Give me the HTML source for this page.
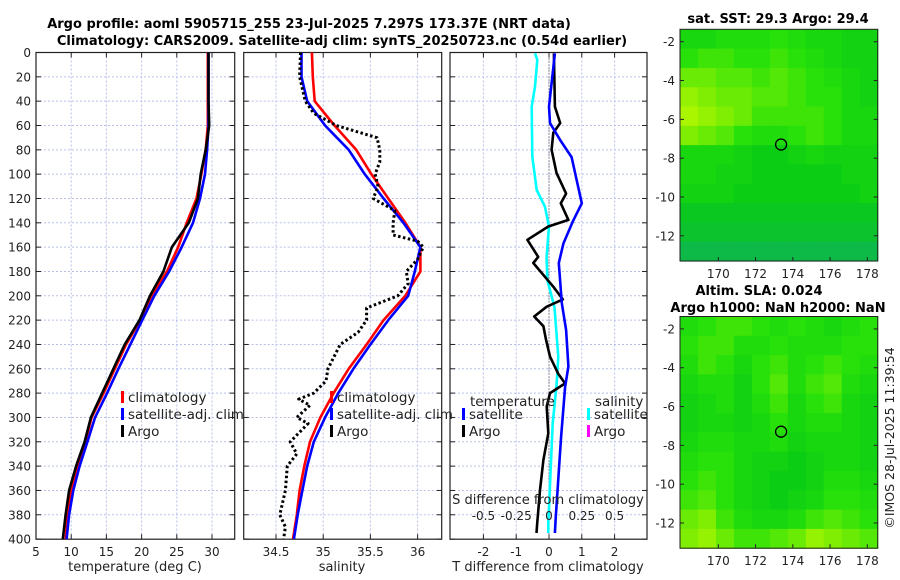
<!DOCTYPE html>
<html><head><meta charset="utf-8"><style>
body{margin:0;background:#fff;}
svg{display:block;font-family:"DejaVu Sans","Liberation Sans",sans-serif;}
</style></head><body>
<svg id="c" width="900" height="580" viewBox="0 0 900 580"></svg>
<script>
const depths=[0,20,40,60,80,100,120,140,160,180,200,220,240,260,280,300,320,340,360,380,400];
const tClim=[29.4,29.4,29.4,29.4,29.1,28.5,27.8,26.4,25.2,23.6,21.4,19.8,17.8,16.2,14.6,12.9,12.0,10.9,10.0,9.5,9.2];
const tSat=[29.5,29.5,29.5,29.5,29.3,29.0,28.3,27.3,25.7,23.9,21.8,20.1,18.4,16.7,15.1,13.4,12.3,11.2,10.3,9.7,9.35];
const tArgo=[29.5,29.5,29.5,29.6,29.1,28.4,28.0,26.7,24.3,23.1,21.2,19.7,17.6,16.0,14.4,12.8,11.9,10.7,9.7,9.2,8.8];
const sClim=[34.88,34.89,34.91,35.12,35.35,35.51,35.69,35.87,36.03,36.03,35.87,35.64,35.46,35.27,35.11,34.97,34.86,34.80,34.75,34.72,34.68];
const sSat=[34.77,34.77,34.83,35.02,35.27,35.44,35.64,35.85,36.03,35.97,35.90,35.69,35.50,35.32,35.16,35.02,34.90,34.83,34.78,34.73,34.69];
const sArgoDepth=[0,20,40,50,60,70,80,90,100,110,120,130,140,150,155,160,170,180,190,200,210,220,230,240,260,270,280,285,290,300,305,320,330,340,360,380,390,400];
const sArgo=[34.76,34.75,34.81,34.90,35.14,35.57,35.60,35.60,35.55,35.58,35.53,35.76,35.74,35.74,36.00,36.06,36.00,35.88,35.90,35.79,35.46,35.46,35.37,35.18,35.05,35.03,34.90,34.74,34.86,34.72,34.84,34.65,34.72,34.62,34.60,34.54,34.60,34.58];
const dTSatDepth=[0.7,44.5,58,72,86,124,138,157,173,206,228,258,275,316,384,395];
const dTSat=[0.18,0.0,0.03,0.34,0.69,1.0,0.74,0.44,0.30,0.39,0.52,0.59,0.49,0.37,0.20,0.18];
const dTArgoDepth=[0.7,44.5,58,66,80,99,116,124,137.6,143,154,168,173,192.5,203,209,217,225,236,250,264,272,280,291,313,335,359,387,395];
const dTArgo=[0.15,0.18,0.34,0.13,0.08,0.23,0.52,0.36,0.59,-0.02,-0.66,-0.33,-0.48,0.13,0.42,-0.07,-0.45,-0.17,-0.09,0.03,0.28,0.49,0.03,-0.07,-0.02,-0.17,-0.27,-0.36,-0.38];
const dSSatDepth=[0.7,6,28,44.5,85.6,113,126.7,143,168,187,209,250,272,305,387,395];
const dSSat=[-0.107,-0.089,-0.107,-0.132,-0.127,-0.094,-0.031,0,-0.018,-0.013,0.041,0.071,0.059,0.028,-0.005,-0.005];
const depthTicks=[0,20,40,60,80,100,120,140,160,180,200,220,240,260,280,300,320,340,360,380,400];
const tTicks=[5,10,15,20,25,30];
const sTicks=[34.5,35,35.5,36];
const dTTicks=[-2,-1,0,1,2];
const dSTicks=[-0.5,-0.25,0,0.25,0.5];
const lonTicks=[170,172,174,176,178];
const latTicks=[-2,-4,-6,-8,-10,-12];
const sstGrid=[
[.45,.45,.5,.5,.5,.55,.5,.45,.45,.4,.4],
[.55,.6,.6,.55,.55,.6,.55,.5,.45,.4,.4],
[.7,.7,.65,.65,.6,.65,.6,.55,.5,.45,.4],
[.8,.75,.7,.7,.65,.65,.6,.55,.55,.45,.4],
[.85,.8,.75,.7,.6,.6,.6,.6,.55,.45,.45],
[.75,.7,.65,.55,.5,.5,.55,.6,.55,.45,.45],
[.45,.45,.45,.4,.35,.35,.4,.45,.4,.4,.4],
[.45,.45,.4,.4,.35,.35,.35,.35,.35,.4,.4],
[.4,.4,.4,.35,.35,.35,.35,.35,.35,.35,.4],
[.3,.3,.3,.3,.3,.3,.3,.3,.3,.3,.3],
[.25,.25,.25,.25,.25,.25,.25,.25,.25,.25,.25],
[.15,.15,.15,.15,.15,.15,.15,.15,.15,.15,.15]];
const slaGrid=[
[.5,.55,.6,.6,.55,.5,.55,.5,.45,.5,.55],
[.55,.6,.6,.5,.5,.55,.5,.5,.5,.55,.55],
[.5,.6,.55,.45,.55,.6,.5,.55,.6,.55,.5],
[.45,.5,.5,.4,.55,.65,.5,.6,.65,.5,.45],
[.4,.45,.5,.4,.5,.6,.45,.55,.6,.45,.4],
[.4,.45,.45,.4,.45,.55,.45,.5,.5,.45,.4],
[.45,.5,.5,.45,.45,.5,.4,.45,.45,.45,.4],
[.5,.55,.55,.45,.4,.4,.35,.4,.45,.45,.4],
[.55,.6,.55,.45,.4,.35,.35,.4,.5,.5,.45],
[.6,.65,.55,.45,.4,.35,.4,.45,.55,.55,.5],
[.7,.75,.6,.5,.45,.45,.5,.6,.65,.6,.55],
[.75,.8,.7,.6,.6,.65,.7,.8,.75,.7,.65]];
const floatLon=173.37, floatLat=-7.297;

const NS='http://www.w3.org/2000/svg';
const svg=document.getElementById('c');
function el(tag,attrs,parent){const e=document.createElementNS(NS,tag);for(const k in attrs)e.setAttribute(k,attrs[k]);(parent||svg).appendChild(e);return e;}
function txt(x,y,s,attrs,parent){const t=el('text',Object.assign({x:x,y:y,'font-size':12,fill:'#222'},attrs||{}),parent);t.textContent=s;return t;}

const Y0=52.5,YS=1.2165,YB=539.2;
const yD=d=>Y0+d*YS;
const panels=[
 {x0:36,x1:234.7,name:'temperature-panel',sx:v=>36+(v-5)*7.04},
 {x0:243.7,x1:441.7,name:'salinity-panel',sx:v=>276+(v-34.5)*94.4},
 {x0:450,x1:647,name:'difference-panel',sx:v=>549+v*32.8}
];
const sxS=v=>549+v*131.2;

panels.forEach((p,i)=>{
 const g=el('g',{});
 
 
 const grid=i===0?tTicks:(i===1?sTicks:dTTicks);
 grid.forEach(v=>{const x=p.sx(v);el('line',{x1:x,x2:x,y1:Y0,y2:YB,stroke:'#b8c0ea','stroke-width':1,'stroke-dasharray':'2,2'},g);});
 depthTicks.forEach(d=>{const y=yD(d);el('line',{x1:p.x0,x2:p.x1,y1:y,y2:y,stroke:'#b8c0ea','stroke-width':1,'stroke-dasharray':'2,2'},g);
   el('line',{x1:p.x0,x2:p.x0+5,y1:y,y2:y,stroke:'#222'},g);el('line',{x1:p.x1-5,x2:p.x1,y1:y,y2:y,stroke:'#222'},g);});
 grid.forEach(v=>{const x=p.sx(v);el('line',{x1:x,x2:x,y1:YB,y2:YB-5,stroke:'#222'},g);el('line',{x1:x,x2:x,y1:Y0,y2:Y0+5,stroke:'#222'},g);
   txt(x,556,String(v),{'text-anchor':'middle'},g);});
 el('rect',{x:p.x0,y:Y0,width:p.x1-p.x0,height:YB-Y0,fill:'none',stroke:'#222','stroke-width':1.2},g);
});
// depth labels
const dl=el('g',{});
depthTicks.forEach(d=>txt(31,yD(d)+4.5,String(d),{'text-anchor':'end'},dl));

function line(sx,xs,ds,color,name,extra){
 const pts=xs.map((v,i)=>sx(v).toFixed(1)+','+yD(ds[i]).toFixed(1)).join(' ');
 const pl=el('polyline',Object.assign({points:pts,fill:'none',stroke:color,'stroke-width':2.6,'stroke-linejoin':'round'},extra||{}));
 
 
 return pl;
}
const P=panels;
line(P[0].sx,tClim,depths,'#ff0000','temp-climatology-line');
line(P[0].sx,tSat,depths,'#0000ff','temp-satellite-line');
line(P[0].sx,tArgo,depths,'#000000','temp-argo-line');
line(P[1].sx,sClim,depths,'#ff0000','sal-climatology-line');
line(P[1].sx,sSat,depths,'#0000ff','sal-satellite-line');
line(P[1].sx,sArgo,sArgoDepth,'#000000','sal-argo-line',{'stroke-dasharray':'2.5,2.5','stroke-width':3});
// zero line
const zl=el('line',{x1:549,x2:549,y1:Y0,y2:YB,stroke:'#333','stroke-width':1,'stroke-dasharray':'1,2'});

line(sxS,dSSat,dSSatDepth,'#00ffff','sal-diff-satellite-line');
line(P[2].sx,dTArgo,dTArgoDepth,'#000000','temp-diff-argo-line');
line(P[2].sx,dTSat,dTSatDepth,'#0000ff','temp-diff-satellite-line');

// legends
function legend(x,y,color,label,name){
 const g=el('g',{});
 el('rect',{x:x,y:y-9,width:3,height:12,fill:color},g);
 txt(x+7,y+2,label,{'font-size':13.5,fill:'#222'},g);
}
legend(121,400,'#ff0000','climatology','legend-climatology');
legend(121,417,'#0000ff','satellite-adj. clim','legend-satellite-adj');
legend(121,434,'#000000','Argo','legend-argo');
legend(330,400,'#ff0000','climatology','legend-sal-climatology');
legend(330,417,'#0000ff','satellite-adj. clim','legend-sal-satellite-adj');
legend(330,434,'#000000','Argo','legend-sal-argo');
txt(470,406,'temperature',{'font-size':13.5},svg);
txt(595,406,'salinity',{'font-size':13.5},svg);
legend(462,417,'#0000ff','satellite','legend-temp-satellite');
legend(462,434,'#000000','Argo','legend-temp-argo');
legend(587,417,'#00ffff','satellite','legend-sal-satellite');
legend(587,434,'#ff00ff','Argo','legend-sal-argo-diff');

// S diff axis labels
const sg=el('g',{});
txt(548,504,'S difference from climatology',{'text-anchor':'middle','font-size':13},sg);
dSTicks.forEach(v=>txt(sxS(v),520,String(v),{'text-anchor':'middle'},sg));

// axis titles
txt(135,571,'temperature (deg C)',{'text-anchor':'middle','font-size':13});
txt(342,571,'salinity',{'text-anchor':'middle','font-size':13});
txt(548,571,'T difference from climatology',{'text-anchor':'middle','font-size':13});

// titles
txt(309,28,'Argo profile: aoml 5905715_255 23-Jul-2025 7.297S 173.37E (NRT data)',{'text-anchor':'middle','font-size':13,'font-weight':'bold',fill:'#000'});
txt(342,45,'Climatology: CARS2009. Satellite-adj clim: synTS_20250723.nc (0.54d earlier)',{'text-anchor':'middle','font-size':13,'font-weight':'bold',fill:'#000'});

// maps
function cmap(v){
 const stops=[[0,[16,170,110]],[0.35,[10,205,20]],[0.55,[40,225,10]],[0.85,[170,245,0]],[1,[200,250,0]]];
 for(let i=1;i<stops.length;i++){if(v<=stops[i][0]){const a=stops[i-1],b=stops[i],t=(v-a[0])/(b[0]-a[0]);return 'rgb('+a[1].map((c,k)=>Math.round(c+(b[1][k]-c)*t)).join(',')+')';}}
 return 'rgb(200,250,0)';
}
function map(top,gridData,name){
 const L=680,R=877.7,T=top,B=top+231.7;
 const lon0=167.94,lon1=178.56,lat0=-1.36,lat1=-13.3;
 const mx=v=>L+(v-lon0)/(lon1-lon0)*(R-L), my=v=>T+(v-lat0)/(lat1-lat0)*(B-T);
 const g=el('g',{});
 const rows=gridData.length,cols=gridData[0].length,cw=(R-L)/cols,ch=(B-T)/rows;
 gridData.forEach((row,r)=>row.forEach((v,c)=>{
   const cell=el('rect',{x:(L+c*cw).toFixed(2),y:(T+r*ch).toFixed(2),width:(cw+0.6).toFixed(2),height:(ch+0.6).toFixed(2),fill:cmap(v)},g);
   
   
 }));
 el('rect',{x:L,y:T,width:R-L,height:B-T,fill:'none',stroke:'#222','stroke-width':1},g);
 lonTicks.forEach(v=>{const x=mx(v);el('line',{x1:x,x2:x,y1:B,y2:B-4,stroke:'#222'},g);txt(x,B+17,String(v),{'text-anchor':'middle'},g);});
 latTicks.forEach(v=>{const y=my(v);el('line',{x1:L,x2:L+4,y1:y,y2:y,stroke:'#222'},g);el('line',{x1:R-4,x2:R,y1:y,y2:y,stroke:'#222'},g);txt(L-5,y+4.5,String(v),{'text-anchor':'end'},g);});
 const mk=el('circle',{cx:mx(floatLon),cy:my(floatLat),r:5.5,fill:'none',stroke:'#000','stroke-width':1.3},g);
 
 
}
map(29.3,sstGrid,'sst-map');
map(316.5,slaGrid,'sla-map');
txt(778,23,'sat. SST: 29.3 Argo: 29.4',{'text-anchor':'middle','font-size':13,'font-weight':'bold',fill:'#000'});
txt(759,295,'Altim. SLA: 0.024',{'text-anchor':'middle','font-size':13,'font-weight':'bold',fill:'#000'});
txt(778,312,'Argo h1000: NaN h2000: NaN',{'text-anchor':'middle','font-size':13,'font-weight':'bold',fill:'#000'});
const cr=txt(0,0,'\u00a9IMOS 28-Jul-2025 11:39:54',{'text-anchor':'middle','font-size':12.5,transform:'translate(894,438) rotate(-90)'});

</script>
</body></html>
